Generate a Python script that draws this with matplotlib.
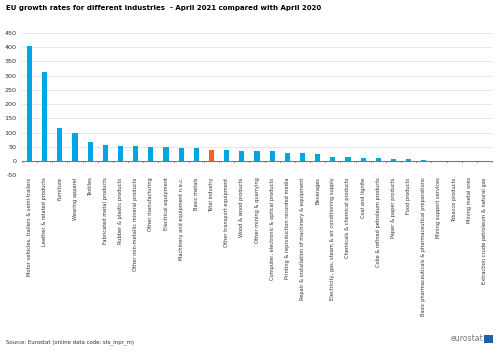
import matplotlib
matplotlib.use("Agg")
import matplotlib.pyplot as plt
from matplotlib.patches import Rectangle

categories = [
    "Motor vehicles, trailers & semi-trailers",
    "Leather & related products",
    "Furniture",
    "Wearing apparel",
    "Textiles",
    "Fabricated metal products",
    "Rubber & plastic products",
    "Other non-metallic mineral products",
    "Other manufacturing",
    "Electrical equipment",
    "Machinery and equipment n.e.c.",
    "Basic metals",
    "Total industry",
    "Other transport equipment",
    "Wood & wood products",
    "Other mining & quarrying",
    "Computer, electronic & optical products",
    "Printing & reproduction recorded media",
    "Repair & installation of machinery & equipment",
    "Beverages",
    "Electricity, gas, steam & air conditioning supply",
    "Chemicals & chemical products",
    "Coal and lignite",
    "Coke & refined petroleum products",
    "Paper & paper products",
    "Food products",
    "Basic pharmaceuticals & pharmaceutical preparations",
    "Mining support services",
    "Tobacco products",
    "Mining metal ores",
    "Extraction crude petroleum & natural gas",
]
values = [405, 311, 118, 100, 66, 56, 53, 52, 50, 48, 47, 45, 39, 38, 37, 36, 35,
          29, 28, 25, 15, 14, 11, 10, 7, 6, 3, 0, 0, -1, -2]
highlight = "Total industry"
yticks = list(range(-50, 451, 50))

BLUE = "#00A5E6"
ORANGE = "#F06423"

fig = plt.figure(figsize=(5.0, 3.53), dpi=100)
ax = fig.add_axes([0.044, 0.503, 0.94, 0.404])

colors = [ORANGE if c == highlight else BLUE for c in categories]
x = list(range(len(categories)))
ax.bar(x, values, width=0.34, color=colors, zorder=3)

ax.set_xlim(-0.5, len(categories) - 0.5)
ax.set_ylim(-50, 450)
ax.set_yticks(yticks)
ax.set_yticklabels([str(t) for t in yticks], fontsize=4.6, color="#333333")
ax.grid(axis="y", color="#e6e6e6", linewidth=0.7, zorder=0)
for s in ax.spines.values():
    s.set_visible(False)
ax.tick_params(axis="y", length=0, pad=4)
ax.axhline(0, color="#777777", linewidth=0.8, zorder=4)

# category tick marks between bars, on the zero line
for i in range(len(categories) + 1):
    ax.plot([i - 0.5, i - 0.5], [0, -4], color="#777777", linewidth=0.6, zorder=4,
            clip_on=False)

ax.set_xticks(x)
ax.set_xticklabels([])
ax.tick_params(axis="x", length=0)
for i, c in enumerate(categories):
    ax.text(i, -57, c, rotation=90, ha="center", va="top", fontsize=3.7,
            color="#333333")

fig.text(0.012, 0.985, "EU growth rates for different industries  - April 2021 compared with April 2020",
         fontsize=5.05, fontweight="bold", ha="left", va="top", color="#000000")
fig.text(0.013, 0.03, "Source: Eurostat (online data code: sts_inpr_m)",
         fontsize=3.9, ha="left", va="center", color="#333333")
fig.text(0.967, 0.04, "eurostat", fontsize=5.6, ha="right", va="center", color="#777777")
fig.patches.append(Rectangle((0.968, 0.029), 0.018, 0.023, transform=fig.transFigure,
                             facecolor="#1f5fa8", edgecolor="none"))

fig.savefig("out.png", dpi=100)
